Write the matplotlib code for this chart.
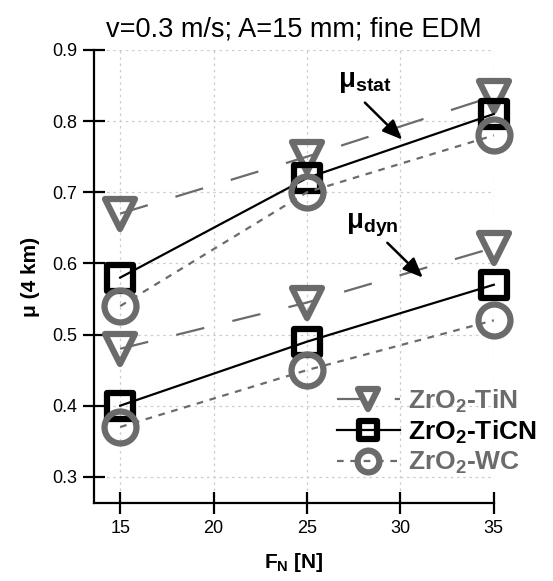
import matplotlib
matplotlib.use('Agg')
import matplotlib.pyplot as plt
from matplotlib.markers import MarkerStyle

plt.rcParams['font.family'] = ['Liberation Sans', 'DejaVu Sans']
plt.rcParams['mathtext.fontset'] = 'custom'
plt.rcParams['mathtext.rm'] = 'Liberation Sans'
plt.rcParams['mathtext.bf'] = 'Liberation Sans:bold'

fn = [15, 25, 35]
tin_stat = [0.67, 0.75, 0.835]
ticn_stat = [0.58, 0.72, 0.81]
wc_stat = [0.54, 0.70, 0.78]
tin_dyn = [0.48, 0.545, 0.622]
ticn_dyn = [0.40, 0.49, 0.57]
wc_dyn = [0.37, 0.45, 0.52]
labels = [r'ZrO$_\mathbf{2}$-TiN', r'ZrO$_\mathbf{2}$-TiCN', r'ZrO$_\mathbf{2}$-WC']

gray = '#6b6b6b'
fig = plt.figure(figsize=(5.53, 5.81), dpi=100)
ax = fig.add_axes([0.170, 0.134, 0.723, 0.780])

styles = [
    dict(color=gray, ls=(0, (13, 13)), marker=MarkerStyle('v', joinstyle='round'), ms=21),
    dict(color='black', ls='-', marker=MarkerStyle('s', joinstyle='round'), ms=19),
    dict(color=gray, ls=(0, (3, 3)), marker=MarkerStyle('o'), ms=23),
]
series = [(tin_stat, tin_dyn), (ticn_stat, ticn_dyn), (wc_stat, wc_dyn)]
handles = []
for (st, dy), s, lab in zip(series, styles, labels):
    for vals in (st, dy):
        h, = ax.plot(fn, vals, color=s['color'], ls=s['ls'], lw=1.6,
                     marker=s['marker'], ms=s['ms'], mfc='none',
                     mec=s['color'], mew=4.5, clip_on=False, label=lab)
    handles.append(h)

ax.set_xlim(13.6, 35)
ax.set_ylim(0.263, 0.9)
ax.set_xticks([15, 20, 25, 30, 35])
ax.set_yticks([0.3, 0.4, 0.5, 0.6, 0.7, 0.8, 0.9])
ax.grid(True, ls=(0, (2, 3)), color='#cccccc', lw=0.9)
ax.set_axisbelow(True)
for side in ['top', 'right']:
    ax.spines[side].set_visible(False)
for side in ['left', 'bottom']:
    ax.spines[side].set_linewidth(1.6)
ax.tick_params(direction='inout', length=16, width=1.6, labelsize=13, pad=4)

ax.set_title('v=0.3 m/s; A=15 mm; fine EDM', fontsize=19.5, pad=10)
ax.set_xlabel(r'F$_\mathbf{N}$ [N]', fontsize=15, fontweight='bold', labelpad=10)
ax.set_ylabel('μ (4 km)', fontsize=15, fontweight='bold', labelpad=9)

arrow = dict(arrowstyle='-|>,head_length=1.2,head_width=0.5',
             color='black', lw=1.8, shrinkA=0, shrinkB=0)
ax.text(28.1, 0.855, r'μ$_\mathbf{stat}$', fontsize=20, fontweight='bold',
        ha='center', va='center')
ax.annotate('', xy=(30.1, 0.774), xytext=(28.1, 0.826), arrowprops=arrow)
ax.text(28.5, 0.654, r'μ$_\mathbf{dyn}$', fontsize=20, fontweight='bold',
        ha='center', va='center')
ax.annotate('', xy=(31.2, 0.580), xytext=(29.3, 0.629), arrowprops=arrow)

leg = fig.legend(handles=handles, loc='upper left', bbox_to_anchor=(0.585, 0.356),
                 frameon=False, borderpad=0, handlelength=2.4, handletextpad=0.3,
                 labelspacing=0.14, markerscale=0.68,
                 prop=dict(size=19, weight='bold'))
for t, c in zip(leg.get_texts(), [gray, 'black', gray]):
    t.set_color(c)

fig.savefig('out.png', dpi=100)
